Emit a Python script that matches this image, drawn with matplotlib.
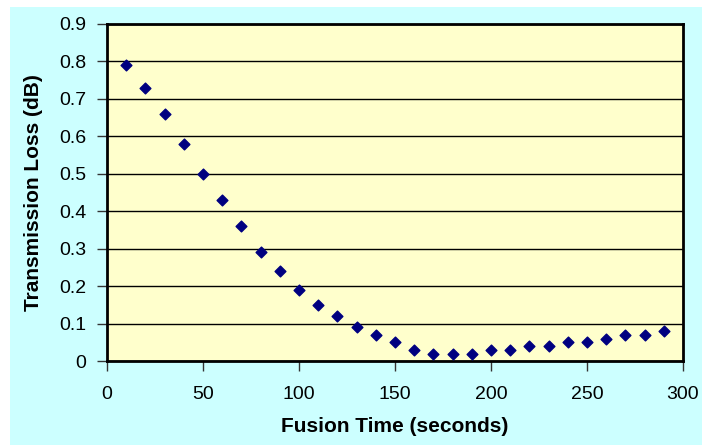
import numpy as np
import matplotlib.pyplot as plt

# fusion time (s) vs transmission loss (dB)
fusion_time = [10, 20, 30, 40, 50, 60, 70, 80, 90, 100, 110, 120, 130, 140,
               150, 160, 170, 180, 190, 200, 210, 220, 230, 240, 250, 260, 270, 280, 290]
loss_db = [0.79, 0.73, 0.66, 0.58, 0.50, 0.43, 0.36, 0.29, 0.24, 0.19, 0.15, 0.12, 0.09, 0.07,
           0.05, 0.03, 0.02, 0.02, 0.02, 0.03, 0.03, 0.04, 0.04, 0.05, 0.05, 0.06, 0.07, 0.07, 0.08]
x_ticks = [0, 50, 100, 150, 200, 250, 300]
y_ticks = [0, 0.1, 0.2, 0.3, 0.4, 0.5, 0.6, 0.7, 0.8, 0.9]

plt.rcParams['font.family'] = ['Liberation Sans', 'DejaVu Sans']

W, H = 702, 445
fig = plt.figure(figsize=(W / 100, H / 100), dpi=100)
fig.patch.set_facecolor('white')
# cyan chart area, leaving a thin white strip top/left
fig.patches.append(plt.Rectangle((10 / W, 0), 1 - 10 / W, 1 - 7 / H,
                                 transform=fig.transFigure, facecolor='#CCFFFF',
                                 edgecolor='none', zorder=-10))

ax_l, ax_r, ax_t, ax_b = 107, 683, 24, 361
ax = fig.add_axes([ax_l / W, 1 - ax_b / H, (ax_r - ax_l) / W, (ax_b - ax_t) / H])
ax.set_facecolor('#FFFFCC')
ax.scatter(fusion_time, loss_db, marker='D', s=30, color='#000080', zorder=3)

ax.set_xlim(0, 300)
ax.set_ylim(0, 0.9)
ax.set_xticks(x_ticks)
ax.set_yticks(y_ticks)
ax.set_xticklabels([str(t) for t in x_ticks])
ax.set_yticklabels(['0'] + ['%.1f' % t for t in y_ticks[1:]])
ax.yaxis.grid(True, color='black', linewidth=1)
ax.set_axisbelow(True)
for s in ax.spines.values():
    s.set_linewidth(2)
    s.set_color('black')
ax.tick_params(direction='out', length=7, width=1, color='#333333', labelsize=14)
ax.tick_params(axis='y', pad=8)
ax.tick_params(axis='x', pad=11)

ax.set_xlabel('Fusion Time (seconds)', fontsize=15, fontweight='bold', va='center')
ax.set_ylabel('Transmission Loss (dB)', fontsize=15, fontweight='bold', va='center', ha='center')
ax.xaxis.set_label_coords(0.5, (ax_b - 426) / (ax_b - ax_t))
ax.yaxis.set_label_coords((34 - ax_l) / (ax_r - ax_l), 0.5)

fig.savefig('out.png', dpi=100, facecolor=fig.get_facecolor())
